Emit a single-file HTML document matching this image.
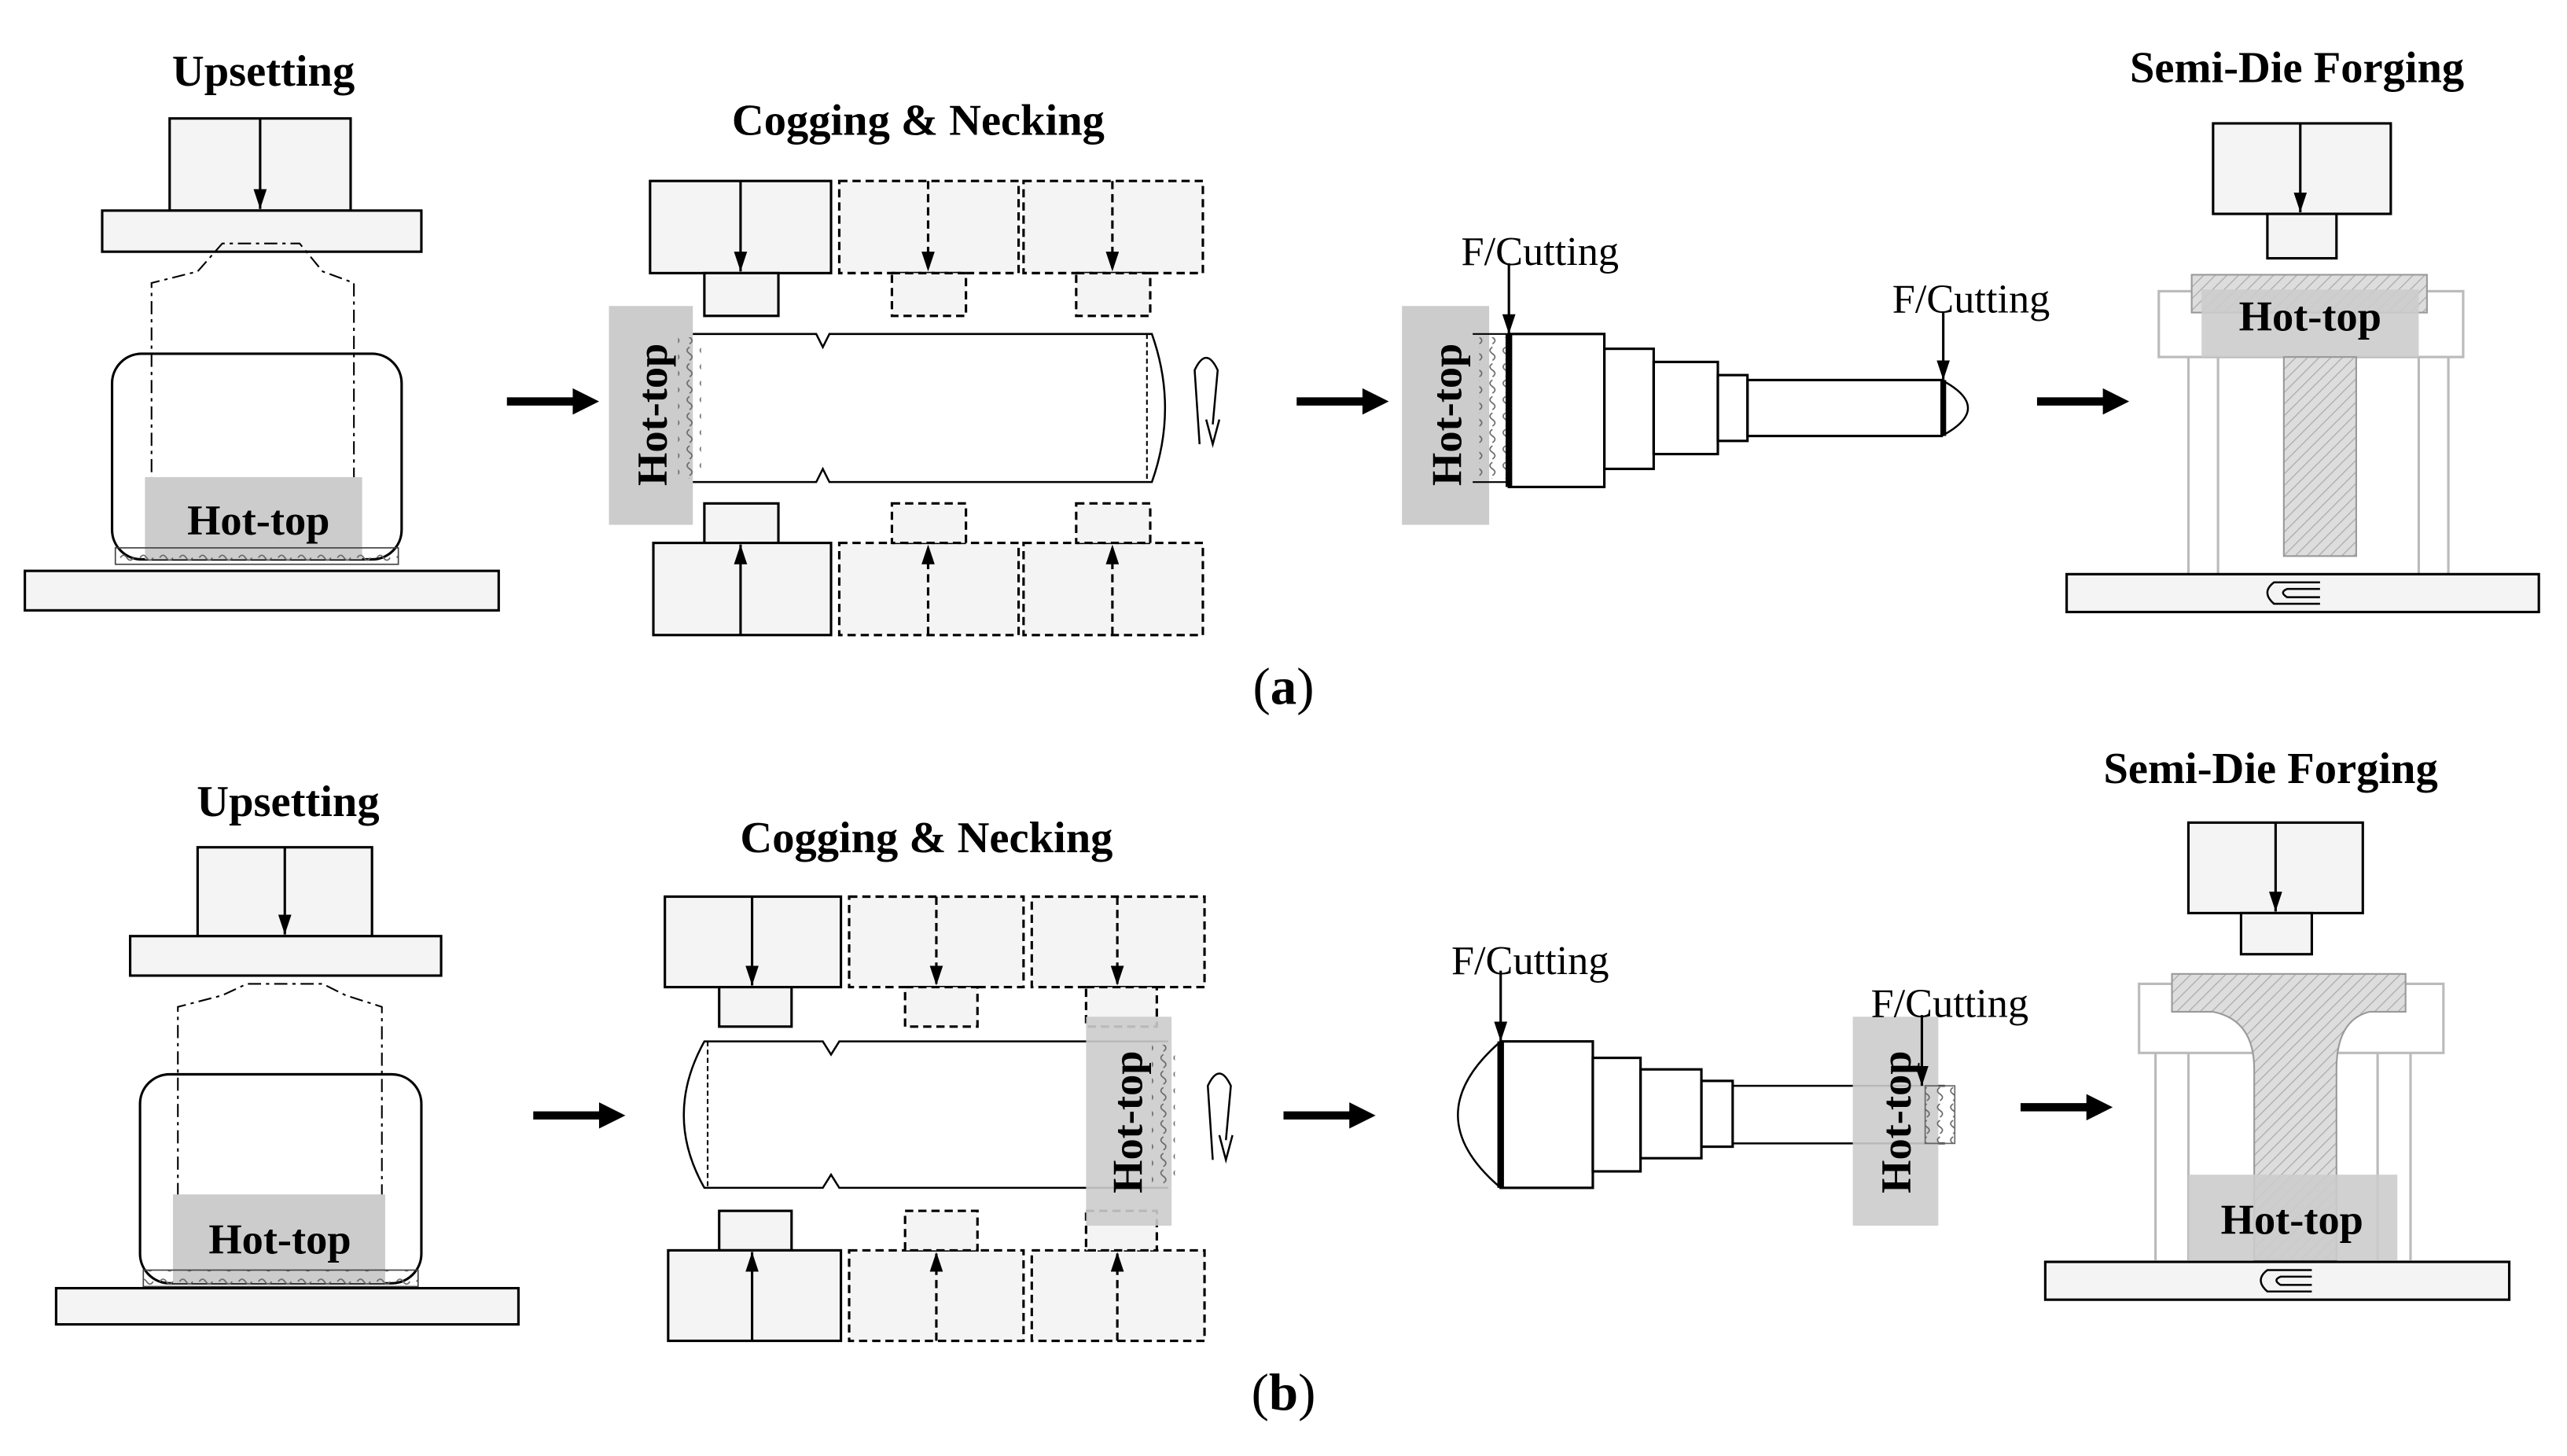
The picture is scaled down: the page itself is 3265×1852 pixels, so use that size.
<!DOCTYPE html>
<html><head><meta charset="utf-8"><style>
html,body{margin:0;padding:0;background:#fff;}
svg{display:block;}
text{font-family:"Liberation Serif",serif;}
.t{font-weight:bold;font-size:27px;text-anchor:middle;}
.h{font-weight:bold;font-size:26px;text-anchor:middle;}
.f{font-size:25px;}
</style></head><body>
<svg width="3265" height="1852" viewBox="0 0 1560 885" xmlns="http://www.w3.org/2000/svg">
<defs>
<marker id="ar" markerWidth="12" markerHeight="8" refX="12" refY="4" orient="auto" markerUnits="userSpaceOnUse" viewBox="0 0 12 8"><path d="M0,0 L12,4 L0,8 Z" fill="#000"/></marker>
<pattern id="hatch" width="5" height="5" patternUnits="userSpaceOnUse" patternTransform="rotate(45)"><rect width="5" height="5" fill="#ddd"/><line x1="0" y1="0" x2="0" y2="5" stroke="#aaa" stroke-width="1.2"/></pattern>
<pattern id="wv" width="12" height="8" patternUnits="userSpaceOnUse"><path d="M1,3 q2,-3 4,0 t4,0" fill="none" stroke="#666" stroke-width="0.8"/></pattern>
<pattern id="wh" width="8" height="10" patternUnits="userSpaceOnUse"><path d="M3,1 q-3,2 0,4 t0,4" fill="none" stroke="#666" stroke-width="0.8"/></pattern>
</defs>
<g fill="none" stroke="#000" stroke-width="1.5">
<!-- (a) Upsetting -->
<text class="t" x="160" y="52" stroke="none" fill="#000">Upsetting</text>
<rect x="103" y="72" width="110" height="56" fill="#f4f4f4"/>
<line x1="158" y1="72" x2="158" y2="127" marker-end="url(#ar)"/>
<rect x="62" y="128" width="194" height="25" fill="#f4f4f4"/>
<path d="M92,335 L92,172 L120,165 L135,148 L182,148 L196,165 L215,172 L215,335" stroke-dasharray="8,3,2,3" stroke-width="1"/>
<rect x="68" y="215" width="176" height="125" rx="18"/>
<rect x="88" y="290" width="132" height="50" fill="#ccc" stroke="none"/>
<text class="h" x="157" y="325" stroke="none" fill="#000">Hot-top</text>
<rect x="70" y="333" width="172" height="10" fill="url(#wv)" stroke="#444" stroke-width="0.8"/>
<rect x="15" y="347" width="288" height="24" fill="#f4f4f4"/>
<line x1="308" y1="244" x2="350" y2="244" stroke-width="5"/><path d="M348,236 L364,244 L348,252Z" fill="#000" stroke="none"/>
<!-- (a) Cogging -->
<text class="t" x="558" y="82" stroke="none" fill="#000">Cogging &amp; Necking</text>
<rect x="395" y="110" width="110" height="56" fill="#f4f4f4"/><line x1="450" y1="110" x2="450" y2="165" marker-end="url(#ar)"/>
<rect x="428" y="166" width="45" height="26" fill="#f4f4f4"/>
<g stroke-dasharray="5,3" fill="#f4f4f4">
<rect x="510" y="110" width="109" height="56"/><rect x="542" y="166" width="45" height="26"/>
<rect x="622" y="110" width="109" height="56"/><rect x="654" y="166" width="45" height="26"/>
<rect x="510" y="330" width="109" height="56"/><rect x="542" y="306" width="45" height="24"/>
<rect x="622" y="330" width="109" height="56"/><rect x="654" y="306" width="45" height="24"/>
</g>
<line x1="564" y1="110" x2="564" y2="165" marker-end="url(#ar)" stroke-dasharray="5,3"/>
<line x1="676" y1="110" x2="676" y2="165" marker-end="url(#ar)" stroke-dasharray="5,3"/>
<line x1="564" y1="386" x2="564" y2="331" marker-end="url(#ar)" stroke-dasharray="5,3"/>
<line x1="676" y1="386" x2="676" y2="331" marker-end="url(#ar)" stroke-dasharray="5,3"/>
<rect x="428" y="306" width="45" height="24" fill="#f4f4f4"/>
<rect x="397" y="330" width="108" height="56" fill="#f4f4f4"/><line x1="450" y1="386" x2="450" y2="331" marker-end="url(#ar)"/>
<rect x="370" y="186" width="51" height="133" fill="#ccc" stroke="none"/>
<path d="M421,203 L496,203 L500,211 L504,203 L700,203 Q716,248 700,293 L504,293 L500,285 L496,293 L421,293" stroke-width="1.2"/>
<line x1="697" y1="203" x2="697" y2="293" stroke-dasharray="3,2" stroke-width="1"/>
<rect x="412" y="205" width="14" height="86" fill="url(#wh)" stroke="none"/>
<text class="h" transform="translate(405,252) rotate(-90)" stroke="none" fill="#000">Hot-top</text>
<path d="M729,270 L726,225 Q733,210 740,225 L737,258 M733,255 L737,270 L741,255" stroke-width="1.2"/>
<line x1="788" y1="244" x2="830" y2="244" stroke-width="5"/><path d="M828,236 L844,244 L828,252Z" fill="#000" stroke="none"/>
<!-- (a) Cutting -->
<rect x="852" y="186" width="53" height="133" fill="#ccc" stroke="none"/>
<text class="h" transform="translate(888,252) rotate(-90)" stroke="none" fill="#000">Hot-top</text>
<rect x="899" y="205" width="18" height="86" fill="url(#wh)" stroke="none"/>
<path d="M895,203 L917,203 M895,293 L917,293" stroke-width="1"/>
<rect x="917" y="203" width="58" height="93"/>
<rect x="975" y="212" width="30" height="73"/>
<rect x="1005" y="220" width="39" height="56"/>
<rect x="1044" y="228" width="18" height="40"/>
<rect x="1062" y="231" width="118" height="34"/>
<path d="M1180,231 Q1212,248 1180,265" stroke-width="1.2"/>
<line x1="917" y1="203" x2="917" y2="296" stroke-width="4"/>
<line x1="1181" y1="231" x2="1181" y2="265" stroke-width="3.5"/>
<text class="f" x="888" y="161" stroke="none" fill="#000">F/Cutting</text>
<line x1="917" y1="160" x2="917" y2="203" marker-end="url(#ar)"/>
<text class="f" x="1150" y="190" stroke="none" fill="#000">F/Cutting</text>
<line x1="1181" y1="190" x2="1181" y2="231" marker-end="url(#ar)"/>
<line x1="1238" y1="244" x2="1280" y2="244" stroke-width="5"/><path d="M1278,236 L1294,244 L1278,252Z" fill="#000" stroke="none"/>
<!-- (a) Semi-die -->
<text class="t" x="1396" y="50" stroke="none" fill="#000">Semi-Die Forging</text>
<rect x="1345" y="75" width="108" height="55" fill="#f4f4f4"/><line x1="1398" y1="75" x2="1398" y2="129" marker-end="url(#ar)"/>
<rect x="1378" y="130" width="42" height="27" fill="#f4f4f4"/>
<g stroke="#bbb" stroke-width="1.5">
<rect x="1312" y="177" width="185" height="40"/>
<line x1="1330" y1="217" x2="1330" y2="349"/><line x1="1348" y1="217" x2="1348" y2="349"/>
<line x1="1470" y1="217" x2="1470" y2="349"/><line x1="1488" y1="217" x2="1488" y2="349"/>
</g>
<rect x="1332" y="167" width="143" height="23" fill="url(#hatch)" stroke="#999" stroke-width="1"/>
<rect x="1338" y="176" width="132" height="41" fill="#ccc" stroke="none" opacity="0.9"/>
<text class="h" x="1404" y="201" stroke="none" fill="#000">Hot-top</text>
<rect x="1388" y="217" width="44" height="121" fill="url(#hatch)" stroke="#999" stroke-width="1"/>
<rect x="1256" y="349" width="287" height="23" fill="#f4f4f4"/>
<path d="M1410,354 L1382,354 Q1374,360 1382,367 L1410,367 M1410,358 L1390,358 Q1385,360 1390,363 L1410,363" stroke-width="1.2"/>
<text x="780" y="428" stroke="none" fill="#000" font-size="32" text-anchor="middle">(<tspan font-weight="bold">a</tspan>)</text>

<!-- (b) Upsetting -->
<text class="t" x="175" y="496" stroke="none" fill="#000">Upsetting</text>
<rect x="120" y="515" width="106" height="54" fill="#f4f4f4"/><line x1="173" y1="515" x2="173" y2="568" marker-end="url(#ar)"/>
<rect x="79" y="569" width="189" height="24" fill="#f4f4f4"/>
<path d="M108,775 L108,612 L135,605 L150,598 L196,598 L210,605 L232,612 L232,775" stroke-dasharray="8,3,2,3" stroke-width="1"/>
<rect x="85" y="653" width="171" height="127" rx="18"/>
<rect x="105" y="726" width="129" height="54" fill="#ccc" stroke="none"/>
<text class="h" x="170" y="762" stroke="none" fill="#000">Hot-top</text>
<rect x="87" y="772" width="167" height="10" fill="url(#wv)" stroke="#444" stroke-width="0.8"/>
<rect x="34" y="783" width="281" height="22" fill="#f4f4f4"/>
<line x1="324" y1="678" x2="366" y2="678" stroke-width="5"/><path d="M364,670 L380,678 L364,686Z" fill="#000" stroke="none"/>
<!-- (b) Cogging -->
<text class="t" x="563" y="518" stroke="none" fill="#000">Cogging &amp; Necking</text>
<rect x="404" y="545" width="107" height="55" fill="#f4f4f4"/><line x1="457" y1="545" x2="457" y2="599" marker-end="url(#ar)"/>
<rect x="437" y="600" width="44" height="24" fill="#f4f4f4"/>
<g stroke-dasharray="5,3" fill="#f4f4f4">
<rect x="516" y="545" width="106" height="55"/><rect x="550" y="600" width="44" height="24"/>
<rect x="627" y="545" width="105" height="55"/><rect x="660" y="600" width="43" height="24"/>
<rect x="516" y="760" width="106" height="55"/><rect x="550" y="736" width="44" height="24"/>
<rect x="627" y="760" width="105" height="55"/><rect x="660" y="736" width="43" height="24"/>
</g>
<line x1="569" y1="545" x2="569" y2="599" marker-end="url(#ar)" stroke-dasharray="5,3"/>
<line x1="679" y1="545" x2="679" y2="599" marker-end="url(#ar)" stroke-dasharray="5,3"/>
<line x1="569" y1="815" x2="569" y2="761" marker-end="url(#ar)" stroke-dasharray="5,3"/>
<line x1="679" y1="815" x2="679" y2="761" marker-end="url(#ar)" stroke-dasharray="5,3"/>
<rect x="437" y="736" width="44" height="24" fill="#f4f4f4"/>
<rect x="406" y="760" width="105" height="55" fill="#f4f4f4"/><line x1="457" y1="815" x2="457" y2="761" marker-end="url(#ar)"/>
<path d="M710,633 L510,633 L505,641 L500,633 L428,633 Q403,678 428,722 L500,722 L505,714 L510,722 L710,722" stroke-width="1.2"/>
<line x1="430" y1="633" x2="430" y2="722" stroke-dasharray="3,2" stroke-width="1"/>
<rect x="660" y="618" width="52" height="127" fill="#ccc" stroke="none" opacity="0.9"/>
<rect x="700" y="635" width="14" height="85" fill="url(#wh)" stroke="none"/>
<text class="h" transform="translate(694,682) rotate(-90)" stroke="none" fill="#000">Hot-top</text>
<path d="M737,705 L734,660 Q741,645 748,660 L745,693 M741,690 L745,705 L749,690" stroke-width="1.2"/>
<line x1="780" y1="678" x2="822" y2="678" stroke-width="5"/><path d="M820,670 L836,678 L820,686Z" fill="#000" stroke="none"/>
<!-- (b) Cutting -->
<path d="M912,633 Q860,678 912,722" stroke-width="1.2"/>
<rect x="912" y="633" width="56" height="89"/>
<rect x="968" y="643" width="29" height="69"/>
<rect x="997" y="650" width="37" height="54"/>
<rect x="1034" y="657" width="19" height="40"/>
<path d="M1053,660 L1182,660 M1053,695 L1182,695" stroke-width="1.2"/>
<line x1="912" y1="633" x2="912" y2="722" stroke-width="4"/>
<rect x="1126" y="618" width="52" height="127" fill="#ccc" stroke="none" opacity="0.9"/>
<rect x="1170" y="660" width="18" height="35" fill="url(#wh)" stroke="#666" stroke-width="0.8"/>
<text class="h" transform="translate(1161,682) rotate(-90)" stroke="none" fill="#000">Hot-top</text>
<text class="f" x="882" y="592" stroke="none" fill="#000">F/Cutting</text>
<line x1="912" y1="590" x2="912" y2="633" marker-end="url(#ar)"/>
<text class="f" x="1137" y="618" stroke="none" fill="#000">F/Cutting</text>
<line x1="1168" y1="617" x2="1168" y2="660" marker-end="url(#ar)"/>
<line x1="1228" y1="673" x2="1270" y2="673" stroke-width="5"/><path d="M1268,665 L1284,673 L1268,681Z" fill="#000" stroke="none"/>
<!-- (b) Semi-die -->
<text class="t" x="1380" y="476" stroke="none" fill="#000">Semi-Die Forging</text>
<rect x="1330" y="500" width="106" height="55" fill="#f4f4f4"/><line x1="1383" y1="500" x2="1383" y2="554" marker-end="url(#ar)"/>
<rect x="1362" y="555" width="43" height="25" fill="#f4f4f4"/>
<g stroke="#bbb" stroke-width="1.5">
<rect x="1300" y="598" width="185" height="42"/>
<line x1="1310" y1="640" x2="1310" y2="766"/><line x1="1330" y1="640" x2="1330" y2="766"/>
<line x1="1445" y1="640" x2="1445" y2="766"/><line x1="1465" y1="640" x2="1465" y2="766"/>
</g>
<path d="M1320,592 L1462,592 L1462,615 L1440,615 Q1420,620 1420,650 L1420,766 L1370,766 L1370,650 Q1370,620 1345,615 L1320,615 Z" fill="url(#hatch)" stroke="#999" stroke-width="1"/>
<rect x="1330" y="714" width="127" height="52" fill="#ccc" stroke="none" opacity="0.9"/>
<text class="h" x="1393" y="750" stroke="none" fill="#000">Hot-top</text>
<rect x="1243" y="767" width="282" height="23" fill="#f4f4f4"/>
<path d="M1405,772 L1378,772 Q1370,778 1378,785 L1405,785 M1405,776 L1386,776 Q1381,778 1386,781 L1405,781" stroke-width="1.2"/>
<text x="780" y="857" stroke="none" fill="#000" font-size="32" text-anchor="middle">(<tspan font-weight="bold">b</tspan>)</text>
</g>
</svg>
</body></html>
